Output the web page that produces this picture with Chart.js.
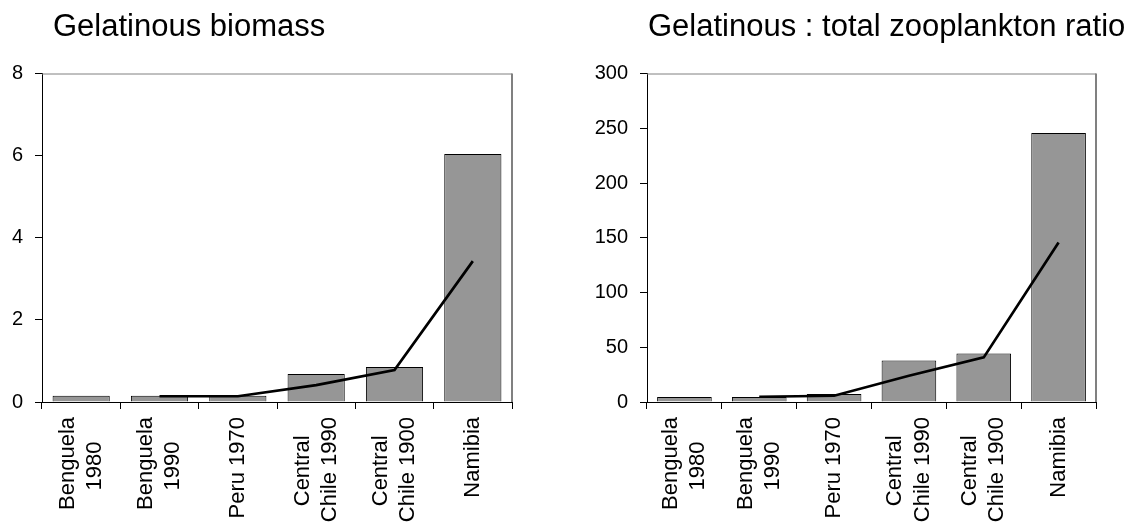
<!DOCTYPE html>
<html><head><meta charset="utf-8">
<script src="https://cdn.jsdelivr.net/npm/chart.js@4"></script>
<style>
html,body{margin:0;padding:0;background:#fff;}
body{width:1137px;height:527px;position:relative;overflow:hidden;font-family:'Liberation Sans',Arial,sans-serif;}
canvas{position:absolute;top:0;}
.title{position:absolute;top:10px;font-size:31px;line-height:31px;color:#000;white-space:nowrap;z-index:2;}
</style></head><body>
<canvas id="c1" width="560" height="527" style="left:0"></canvas>
<canvas id="c2" width="577" height="527" style="left:560px"></canvas>
<div class="title" style="left:53px">Gelatinous biomass</div>
<div class="title" style="left:648px">Gelatinous : total zooplankton ratio</div>
<script>
// categories (multi-line labels, short lines padded so they sit centred)
const categories = [["Benguela", "1980    "], ["Benguela", "1990    "], "Peru 1970", ["Central   ", "Chile 1990"], ["Central   ", "Chile 1900"], "Namibia"];
// Gelatinous biomass
const biomassBars  = [0.15, 0.15, 0.15, 0.68, 0.85, 6.04];
const biomassTrend = [null, 0.14, 0.14, 0.41, 0.78, 3.43];
const biomassTicks = [0, 2, 4, 6, 8];
// Gelatinous : total zooplankton ratio
const ratioBars  = [4.6, 4.6, 7.3, 38, 44.3, 245.7];
const ratioTrend = [null, 4.8, 5.7, 24, 40.7, 145.6];
const ratioTicks = [0, 50, 100, 150, 200, 250, 300];

const FAMILY = "'Liberation Sans', Arial, Helvetica, sans-serif";
Chart.defaults.font.family = FAMILY;
Chart.defaults.color = '#000';

const plotFrame = {
  id: 'plotFrame',
  beforeDraw(chart) {
    // centre multi-line rotated category labels as a block on their tick
    const xs = chart.scales.x;
    const items = xs.getLabelItems(chart.chartArea);
    items.forEach(it => {
      if (Array.isArray(it.label) && it.label.length > 1) {
        it.options.translation[0] -= (it.label.length - 1) * it.font.lineHeight / 2;
      }
    });
  },
  beforeDatasetsDraw(chart) {
    const {ctx, chartArea: a} = chart;
    ctx.save();
    ctx.strokeStyle = '#808080';
    ctx.lineWidth = 1;
    ctx.beginPath();
    ctx.moveTo(a.left, a.top + 0.5);
    ctx.lineTo(a.right, a.top + 0.5);
    ctx.stroke();
    ctx.lineWidth = 2;
    ctx.beginPath();
    ctx.moveTo(a.right, a.top);
    ctx.lineTo(a.right, a.bottom);
    ctx.stroke();
    ctx.restore();
  }
};

function makeChart(id, bars, trend, ticks, yWidth, padRight, xHeight) {
  const tmin = ticks[0], tmax = ticks[ticks.length - 1], step = ticks[1] - ticks[0];
  return new Chart(document.getElementById(id), {
    type: 'bar',
    data: {
      labels: categories,
      datasets: [
        {
          type: 'line',
          data: trend,
          borderColor: '#000',
          borderWidth: 2.7,
          pointRadius: 0,
          fill: false,
          tension: 0,
          order: 1
        },
        {
          type: 'bar',
          data: bars,
          backgroundColor: '#969696',
          borderColor: '#000',
          borderWidth: 1,
          barPercentage: 0.73,
          categoryPercentage: 1,
          order: 2
        }
      ]
    },
    options: {
      responsive: false,
      animation: false,
      devicePixelRatio: 1,
      layout: { padding: { left: 0, right: padRight, top: 73.5, bottom: 0 } },
      plugins: { legend: { display: false }, tooltip: { enabled: false }, title: { display: false } },
      scales: {
        x: {
          grid: { offset: true, drawOnChartArea: false, drawTicks: true, tickLength: 7, color: '#000', lineWidth: 1 },
          border: { color: '#000', width: 1 },
          ticks: { color: '#000', font: { family: FAMILY, size: 22, lineHeight: 1.24 }, minRotation: 90, maxRotation: 90, autoSkip: false, padding: 8 },
          afterFit(s) { s.height = xHeight; }
        },
        y: {
          min: tmin, max: tmax,
          ticks: { stepSize: step, color: '#000', font: { family: FAMILY, size: 20 }, padding: 12 },
          grid: { drawOnChartArea: false, drawTicks: true, tickLength: 7, color: '#000', lineWidth: 1 },
          border: { color: '#000', width: 1 },
          afterFit(s) { s.width = yWidth; }
        }
      }
    },
    plugins: [plotFrame]
  });
}

makeChart('c1', biomassBars, biomassTrend, biomassTicks, 42, 48, 125);
makeChart('c2', ratioBars, ratioTrend, ratioTicks, 87, 41, 125);
</script>
</body></html>
